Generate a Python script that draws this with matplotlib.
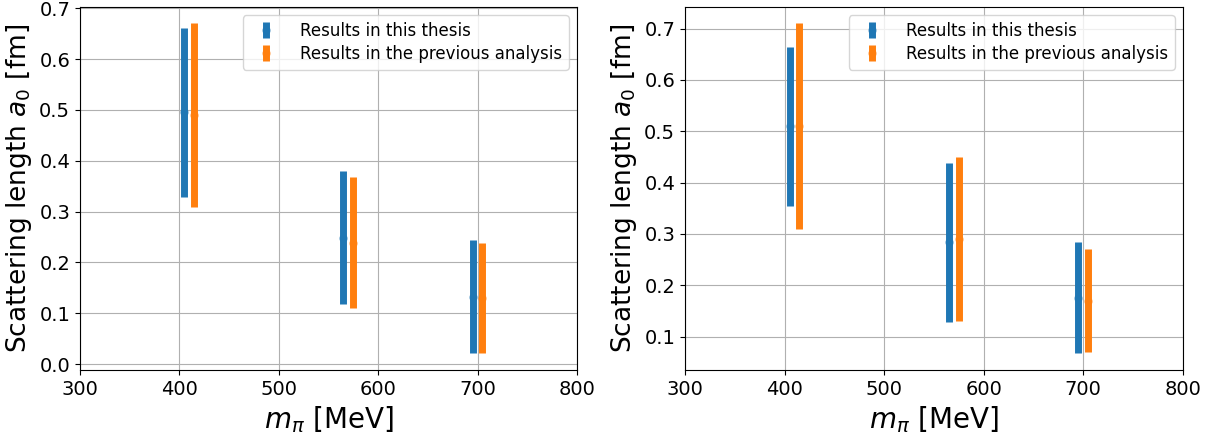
import matplotlib
matplotlib.use("Agg")
import matplotlib.pyplot as plt
import numpy as np

# pion masses (slightly shifted so the two data sets don't overlap)
m_pi_thesis = [405, 565, 695]
m_pi_prev = [415, 575, 705]

# scattering lengths a0 [fm], first fit
a0_thesis_1 = [0.495, 0.249, 0.133]
err_thesis_1 = [0.167, 0.131, 0.112]
a0_prev_1 = [0.490, 0.239, 0.130]
err_prev_1 = [0.180, 0.129, 0.109]

# scattering lengths a0 [fm], second fit
a0_thesis_2 = [0.510, 0.284, 0.176]
err_thesis_2 = [0.155, 0.155, 0.109]
a0_prev_2 = [0.510, 0.290, 0.170]
err_prev_2 = [0.200, 0.160, 0.100]

labels = ["Results in this thesis", "Results in the previous analysis"]


def draw_panel(ax, a0_t, e_t, a0_p, e_p):
    for x, y, e, c, lab in [(m_pi_thesis, a0_t, e_t, "C0", labels[0]),
                            (m_pi_prev, a0_p, e_p, "C1", labels[1])]:
        cont = ax.errorbar(x, y, yerr=e, fmt="o", ms=5, color=c,
                           elinewidth=5, label=lab)
        cont[0].set_alpha(0.6)
    ax.set_xlim(300, 800)
    ax.set_xticks([300, 400, 500, 600, 700, 800])
    ax.grid(True)
    ax.tick_params(labelsize=14)
    ax.set_xlabel(r"$m_\pi$ [MeV]", fontsize=20)
    ax.set_ylabel(r"Scattering length $a_0$ [fm]", fontsize=19)
    ax.legend(loc="upper right", fontsize=12, handletextpad=1.0,
              labelspacing=0.3)


fig = plt.figure(figsize=(12.11, 4.34), dpi=100)
ax1 = fig.add_axes([0.066, 0.1475, 0.4104, 0.8364])
ax2 = fig.add_axes([0.5656, 0.1475, 0.4112, 0.8364])

draw_panel(ax1, a0_thesis_1, err_thesis_1, a0_prev_1, err_prev_1)
draw_panel(ax2, a0_thesis_2, err_thesis_2, a0_prev_2, err_prev_2)

fig.savefig("out.png", dpi=100)
